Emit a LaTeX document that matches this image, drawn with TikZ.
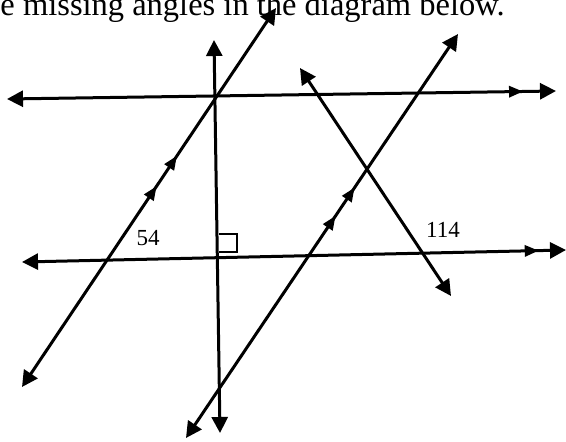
\documentclass[tikz,border=0pt]{standalone}
\usepackage{fontspec}
\setmainfont{Liberation Serif}
\usetikzlibrary{arrows.meta,decorations.markings}

\begin{document}
\begin{tikzpicture}[x=1pt,y=-1pt,line width=3pt,
  ends/.style={{Triangle[length=16pt,width=16pt]}-{Triangle[length=16pt,width=16pt]}},
  onepar/.style={postaction={decorate},decoration={markings,
    mark=at position #1 with {\arrow{Triangle[length=14pt,width=11pt]}}}},
  twopar/.style 2 args={postaction={decorate},decoration={markings,
    mark=at position #1 with {\arrow{Triangle[length=14pt,width=11pt]}},
    mark=at position #2 with {\arrow{Triangle[length=14pt,width=11pt]}}}}]
\useasboundingbox (0,0) rectangle (566,442);
\coordinate (T1) at (7,99);\coordinate (T2) at (556,91);
\coordinate (B1) at (22,262);\coordinate (B2) at (566,250);
\coordinate (V1) at (214,40);\coordinate (V2) at (220,433);
\coordinate (S1) at (22,387);\coordinate (S2) at (276,8);
\coordinate (R1) at (186,438);\coordinate (R2) at (458,34);
\coordinate (C1) at (300,68);\coordinate (C2) at (451,296);
\draw[ends,onepar=.94] (T1)--(T2);
\draw[ends,onepar=.95] (B1)--(B2);
\draw[ends] (V1)--(V2);
\draw[ends,twopar={.53}{.61}] (S1)--(S2);
\draw[ends,twopar={.55}{.62}] (R1)--(R2);
\draw[ends] (C1)--(C2);
\draw[line width=1.3pt] (219,252)--(237,252)--(237,234)--(219,234);
\node[anchor=base west,inner sep=0,font=\fontsize{32.5}{32.5}\selectfont] (title) at (-1,15) {e missing angles in the diagram below.};
\node[font=\fontsize{23}{23}\selectfont] (a54) at (148,238) {54};
\node[font=\fontsize{23}{23}\selectfont] (a114) at (443,230) {114};
\end{tikzpicture}
\end{document}
